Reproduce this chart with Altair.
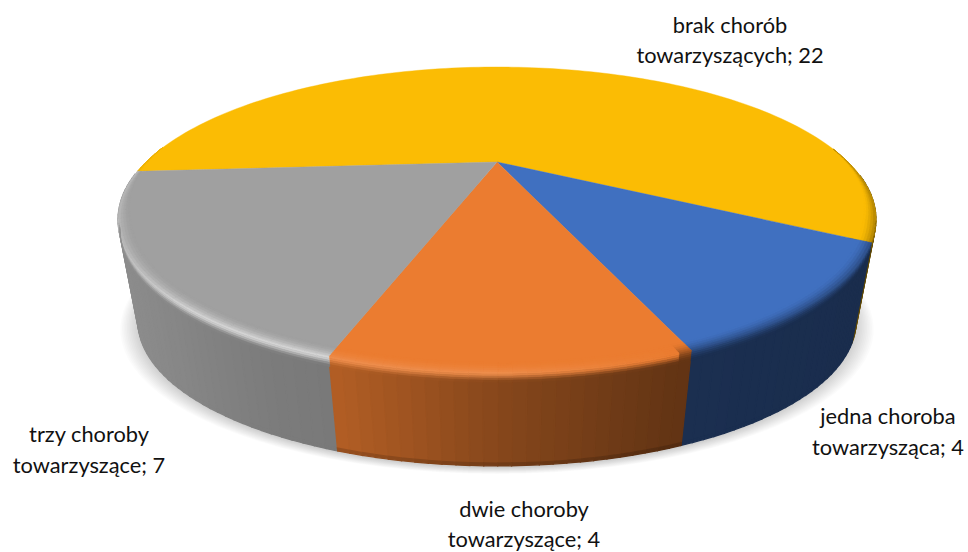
import numpy as np
import altair as alt

alt.data_transformers.disable_max_rows()

# Chart content
NAMES = ["brak chorób towarzyszących", "jedna choroba towarzysząca",
         "dwie choroby towarzyszące", "trzy choroby towarzyszące"]
VALUES = [22, 4, 4, 7]
COLORS = ["#FBBC04", "#4070C0", "#EB7C30", "#A0A0A0"]
LABEL_LINES = [("brak chorób", "towarzyszących"), ("jedna choroba", "towarzysząca"),
               ("dwie choroby", "towarzyszące"), ("trzy choroby", "towarzyszące")]

# Layout of the labels, in pixels (centre x, first line y, second line y)
LABEL_POS = [(730, 26, 56), (888, 417, 448), (524, 510, 540), (89, 435, 466)]

# Perspective of the disc
START = 266.0
CX = 497.0
K = 0.377
TOP = dict(a=351.0, b=130.8, cy=162.0)
BOTTOM = dict(a=332.5, b=123.9, cy=267.0)
WIDTH, HEIGHT = 968, 552


def project(theta, r=1.0, t=0.0):
    rad = np.radians(theta)
    u, v = r * np.sin(rad), -r * np.cos(rad)
    w = 1 - K * v
    a = TOP["a"] + (BOTTOM["a"] - TOP["a"]) * t
    b = TOP["b"] + (BOTTOM["b"] - TOP["b"]) * t
    cy = TOP["cy"] + (BOTTOM["cy"] - TOP["cy"]) * t
    return [float(CX + a * u / w), float(cy + b * v / w)]


def rgb(hex_color):
    return np.array([int(hex_color[i:i + 2], 16) for i in (1, 3, 5)], dtype=float)


def to_hex(c):
    return "#%02x%02x%02x" % tuple(int(round(x)) for x in np.clip(c, 0, 255))


def feature(points, color):
    ring = points + [points[0]]
    return {"type": "Feature",
            "geometry": {"type": "Polygon", "coordinates": [ring]},
            "properties": {"color": color}}


def wall_factor(x):
    return np.interp(x, [117, 250, 340, 500, 680, 875], [0.88, 0.78, 0.75, 0.57, 0.42, 0.40])


def highlight(i, x):
    # rounded front edge catches the light on the left-hand slices only
    if i == 3:
        return 0.55 * np.interp(x, [117, 190, 330], [0.6, 1.0, 1.0])
    if i == 2:
        return 0.13 * np.interp(x, [335, 500, 680], [1.0, 1.0, 0.0])
    return 0.0


def edge_color(base, wall, h, s):
    white = np.array([255.0, 255.0, 255.0])
    peak = base + (white - base) * h
    if h > 0:
        if s < 0.55:
            return base + (peak - base) * (s / 0.55) ** 2
        m = (s - 0.55) / 0.45
        return peak + (wall - peak) * m * m * (3 - 2 * m)
    m = s * s * (3 - 2 * s)
    return base + (wall - base) * m


total = sum(VALUES)
angles = [START]
for val in VALUES:
    angles.append(angles[-1] + 360.0 * val / total)

walls, tops, edges = [], [], []
STEP_DEG = 1.5
BEVEL_R = 0.03
BEVEL_T = 0.11
N_BEVEL = 10

for i, base_hex in enumerate(COLORS):
    base = rgb(base_hex)
    a0, a1 = angles[i], angles[i + 1]
    n = max(2, int(np.ceil((a1 - a0) / STEP_DEG)))
    th = np.linspace(a0, a1, n + 1)

    tops.append(feature([[CX, TOP["cy"]]] + [project(x) for x in th], base_hex))

    for j in range(n):
        t0, t1 = th[j], th[j + 1]
        mid = (t0 + t1) / 2
        v = -np.cos(np.radians(mid))
        x_mid = project(mid)[0]
        wall = base * wall_factor(x_mid)
        if v > 0.1:
            walls.append((v, feature([project(t0, 1, 0), project(t1, 1, 0),
                                      project(t1, 1, 0.97), project(t0, 1, 0.97)], to_hex(wall))))
            # thin darker lip along the foot of the orange wall only
            foot = wall * 0.85 if i == 2 else wall
            walls.append((v + 0.001, feature([project(t0, 1, 0.97), project(t1, 1, 0.97),
                                              project(t1, 1, 1), project(t0, 1, 1)], to_hex(foot))))
        # bevel: fades in towards the viewer, absent at the back of the disc
        g = float(np.clip((v + 0.1) / 0.5, 0, 1))
        if g <= 0:
            continue
        h = highlight(i, x_mid)
        for p in range(N_BEVEL):
            s0, s1 = p / N_BEVEL, (p + 1) / N_BEVEL
            color = to_hex(edge_color(base, wall, h, (s0 + s1) / 2))
            if s1 <= 0.5:
                r0 = 1 - BEVEL_R * g * (1 - s0 / 0.5)
                r1 = 1 - BEVEL_R * g * (1 - s1 / 0.5)
                pts = [project(t0, r0), project(t1, r0), project(t1, r1), project(t0, r1)]
            elif v > K:
                q0, q1 = BEVEL_T * (s0 - 0.5) / 0.5, BEVEL_T * (s1 - 0.5) / 0.5
                pts = [project(t0, 1, q0), project(t1, 1, q0), project(t1, 1, q1), project(t0, 1, q1)]
            else:
                continue
            edges.append(feature(pts, color))

# Back segments first so the nearer wall covers them
walls = [f for _, f in sorted(walls, key=lambda item: item[0])]

# Soft shadow under the disc: stacked translucent outlines
ring = np.arange(0, 360, 3.0)
shadow = []
for n_ring in range(12):
    grow = 1.0 + 0.0045 * n_ring
    shift = 2.0 + 0.55 * n_ring
    shadow.append(feature([[CX + (px - CX) * grow, py + shift]
                           for px, py in (project(a, 1, 1) for a in ring)], "#000000"))

PROJ = dict(type="identity", scale=1, translate=[0, 0])

shadow_layer = alt.Chart(alt.Data(values=shadow)).mark_geoshape(
    fill="#000000", fillOpacity=0.016, strokeWidth=0).project(**PROJ)


def mesh(features, stroke_width):
    return alt.Chart(alt.Data(values=features)).mark_geoshape(strokeWidth=stroke_width).encode(
        fill=alt.Fill("properties.color:N", scale=None, legend=None),
        stroke=alt.Stroke("properties.color:N", scale=None, legend=None),
    ).project(**PROJ)


rows = []
for (first, second), value, (lx, y1, y2) in zip(LABEL_LINES, VALUES, LABEL_POS):
    rows.append({"text": first, "px": lx, "py": y1})
    rows.append({"text": f"{second}; {value}", "px": lx, "py": y2})

text_layer = alt.Chart(alt.Data(values=rows)).mark_text(
    font="Lato", fontSize=21.8, color="#111111", align="center", baseline="middle"
).encode(
    x=alt.X("px:Q", scale=None, axis=None),
    y=alt.Y("py:Q", scale=None, axis=None),
    text="text:N",
)

chart = alt.layer(shadow_layer, mesh(walls, 1.3), mesh(tops, 0.4), mesh(edges, 0.6), text_layer).properties(
    width=WIDTH, height=HEIGHT, padding=0, background="#ffffff", autosize="none",
).configure_view(stroke=None)

chart.save("out.html", embed_options={"renderer": "svg", "actions": False})
